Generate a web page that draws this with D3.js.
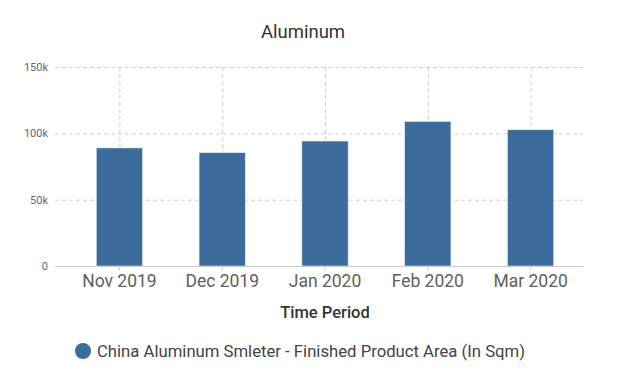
<!DOCTYPE html>
<html lang="en">
<head>
<meta charset="UTF-8">
<title>Aluminum</title>
<script src="https://cdn.jsdelivr.net/npm/d3@7/dist/d3.min.js"></script>
<style>
  body { margin: 0; background: #fff; font-family: Roboto, sans-serif; }
</style>
</head>
<body>
<div id="chart"></div>
<script>
  // data
  var categories = ["Nov 2019", "Dec 2019", "Jan 2020", "Feb 2020", "Mar 2020"];
  var values = [89000, 85400, 94200, 109000, 102700];
  var yTicks = [0, 50000, 100000, 150000];
  var seriesName = "China Aluminum Smleter - Finished Product Area (In Sqm)";

  var W = 625, H = 388;
  var mLeft = 55, mRight = 583, mTop = 67, mBottom = 266;

  var svg = d3.select("#chart").append("svg")
      .attr("width", W)
      .attr("height", H);

  var x = d3.scaleBand()
      .domain(categories)
      .range([68, 582])
      .paddingInner(0.55)
      .paddingOuter(0.275);

  var y = d3.scaleLinear()
      .domain([0, 150000])
      .range([mBottom, mTop]);

  // horizontal grid
  svg.append("g")
      .selectAll("line")
      .data(yTicks.filter(function (d) { return d > 0; }))
      .enter().append("line")
      .attr("x1", mLeft).attr("x2", mRight)
      .attr("y1", function (d) { return y(d) + 0.5; })
      .attr("y2", function (d) { return y(d) + 0.5; })
      .attr("stroke", "#cfcfcf")
      .attr("stroke-dasharray", "4,3");

  // vertical grid at category centres
  svg.append("g")
      .selectAll("line")
      .data(categories)
      .enter().append("line")
      .attr("x1", function (d) { return x(d) + x.bandwidth() / 2 + 0.5; })
      .attr("x2", function (d) { return x(d) + x.bandwidth() / 2 + 0.5; })
      .attr("y1", mTop).attr("y2", mBottom)
      .attr("stroke", "#cfcfcf")
      .attr("stroke-dasharray", "4,3");

  // bars
  svg.append("g")
      .selectAll("rect")
      .data(values)
      .enter().append("rect")
      .attr("x", function (d, i) { return x(categories[i]); })
      .attr("y", function (d) { return y(d); })
      .attr("width", x.bandwidth())
      .attr("height", function (d) { return y(0) - y(d); })
      .attr("fill", "#3b6c9b")
      .attr("stroke", "#e6eef5")
      .attr("stroke-width", 0.6);

  // y axis labels
  var yAxis = d3.axisLeft(y)
      .tickValues(yTicks)
      .tickSize(0)
      .tickPadding(6)
      .tickFormat(function (d) { return d === 0 ? "0" : d3.format("d")(d / 1000) + "k"; });

  var gy = svg.append("g")
      .attr("transform", "translate(" + (mLeft - 1) + ",0)")
      .call(yAxis);
  gy.select(".domain").remove();
  gy.selectAll("text")
      .attr("fill", "#666")
      .style("font-size", "11px")
      .style("font-family", "Roboto, sans-serif");

  // x axis
  var xAxis = d3.axisBottom(x).tickSize(5).tickPadding(4);
  var gx = svg.append("g")
      .attr("transform", "translate(0," + mBottom + ")")
      .call(xAxis);
  gx.select(".domain")
      .attr("d", "M" + mLeft + ",0.5H" + mRight)
      .attr("stroke", "#cccccc");
  gx.selectAll(".tick line").attr("stroke", "#cccccc");
  gx.selectAll("text")
      .attr("fill", "#606060")
      .style("font-size", "17.5px")
      .style("font-family", "Roboto, sans-serif");

  // title
  svg.append("text")
      .attr("x", 303).attr("y", 38)
      .attr("text-anchor", "middle")
      .attr("fill", "#333")
      .style("font-size", "18.5px")
      .text("Aluminum");

  // x axis title
  svg.append("text")
      .attr("x", 325).attr("y", 318)
      .attr("text-anchor", "middle")
      .attr("fill", "#333")
      .style("font-size", "16.5px")
      .style("font-weight", "500")
      .text("Time Period");

  // legend
  var lg = svg.append("g").attr("transform", "translate(83,351)");
  lg.append("circle").attr("r", 8).attr("fill", "#3b6c9b");
  lg.append("text")
      .attr("x", 14).attr("y", 6)
      .attr("fill", "#444")
      .style("font-size", "16.7px")
      .text(seriesName);
</script>
</body>
</html>
